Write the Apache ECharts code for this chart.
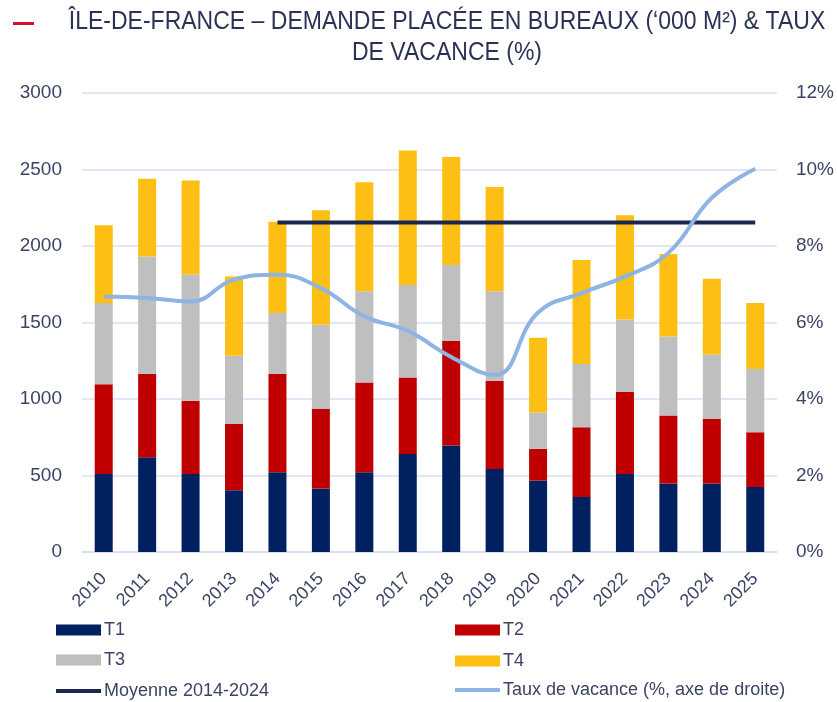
<!DOCTYPE html>
<html>
<head>
<meta charset="utf-8">
<script src="https://cdn.jsdelivr.net/npm/echarts@6/dist/echarts.min.js"></script>
<style>
  html, body { margin: 0; padding: 0; background: #fff; }
  #chart { width: 837px; height: 702px; }
</style>
</head>
<body>
<div id="chart"></div>
<script>
// données ('000 m²)
var annees = ['2010', '2011', '2012', '2013', '2014', '2015', '2016', '2017',
              '2018', '2019', '2020', '2021', '2022', '2023', '2024', '2025'];
var t1 = [510, 620, 510, 404, 521, 415, 521, 641, 696, 543, 467, 360, 510, 447, 447, 425];
var t2 = [587, 543, 478, 432, 642, 519, 587, 500, 683, 576, 207, 456, 535, 445, 423, 358];
var t3 = [530, 768, 825, 446, 399, 552, 596, 604, 497, 585, 238, 412, 475, 517, 421, 413];
var t4 = [508, 508, 615, 518, 596, 748, 713, 879, 705, 682, 488, 681, 681, 538, 495, 431];
// moyenne 2014-2024, tracée de 2014 à 2025
var moyenne = [null, null, null, null, 2153, 2153, 2153, 2153, 2153, 2153, 2153, 2153, 2153, 2153, 2153, 2153];
// taux de vacance (%)
var vacance = [6.68, 6.64, 6.55, 7.12, 7.25, 6.9, 6.16, 5.78, 5.1, 4.63, 6.26, 6.77, 7.2, 7.82, 9.26, 10.02];
var titre1 = 'ÎLE-DE-FRANCE – DEMANDE PLACÉE EN BUREAUX (‘000 M²) & TAUX';
var titre2 = 'DE VACANCE (%)';

var txt = '#3c4466';
var grille = '#d8def5';
var police = '"Liberation Sans", Arial, sans-serif';

var myChart = echarts.init(document.getElementById('chart'));

function barre(nom, data, couleur) {
    return {
        name: nom,
        type: 'bar',
        stack: 'demande',
        barWidth: 18,
        data: data,
        itemStyle: { color: couleur }
    };
}

// une légende par entrée, placée comme sur l'original
function leg(nom, x, y, hauteur) {
    return {
        data: [nom],
        left: x,
        top: y,
        icon: 'rect',
        itemWidth: 45,
        itemHeight: hauteur,
        padding: 0,
        textStyle: { color: txt, fontSize: 18, fontFamily: police, padding: [0, 0, 0, -2] }
    };
}

// titre condensé (police étroite absente)
function ligneTitre(texte, y) {
    return {
        type: 'text',
        x: 447,
        y: y,
        scaleX: 0.885,
        style: {
            text: texte,
            x: 0,
            y: 0,
            align: 'center',
            verticalAlign: 'middle',
            fill: '#2a3256',
            font: '26px "Liberation Sans", Arial, sans-serif'
        }
    };
}

myChart.setOption({
    animation: false,
    graphic: [
        {
            type: 'rect',
            shape: { x: 13, y: 22, width: 21, height: 3 },
            style: { fill: '#d0112b' }
        },
        ligneTitre(titre1, 22),
        ligneTitre(titre2, 53)
    ],
    legend: [
        leg('T1', 56, 621, 11),
        leg('T3', 56, 651, 11),
        leg('Moyenne 2014-2024', 56, 682, 4),
        leg('T2', 455, 621, 11),
        leg('T4', 455, 652, 11),
        leg('Taux de vacance (%, axe de droite)', 455, 681, 4)
    ],
    grid: {
        left: 82,
        right: 58,
        top: 93,
        bottom: 150
    },
    xAxis: {
        type: 'category',
        data: annees,
        axisLine: { lineStyle: { color: grille, width: 1.5 } },
        axisTick: { show: false },
        axisLabel: {
            rotate: 45,
            color: txt,
            fontSize: 18,
            fontFamily: police,
            margin: 24
        }
    },
    yAxis: [{
        type: 'value',
        min: 0,
        max: 3000,
        interval: 500,
        axisLine: { show: false },
        axisTick: { show: false },
        splitLine: { lineStyle: { color: grille, width: 1.5 } },
        axisLabel: {
            color: txt, fontSize: 19, fontFamily: police, margin: 20,
            formatter: function (v) { return String(v); }
        }
    }, {
        type: 'value',
        min: 0,
        max: 12,
        interval: 2,
        axisLine: { show: false },
        axisTick: { show: false },
        splitLine: { show: false },
        axisLabel: { color: txt, fontSize: 19, fontFamily: police, margin: 19, formatter: '{value}%' }
    }],
    series: [
        barre('T1', t1, '#002060'),
        barre('T2', t2, '#c00000'),
        barre('T3', t3, '#bfbfbf'),
        barre('T4', t4, '#fdbf14'),
        {
            name: 'Moyenne 2014-2024',
            type: 'line',
            data: moyenne,
            symbol: 'none',
            lineStyle: { color: '#1c2750', width: 4 },
            itemStyle: { color: '#1c2750' },
            z: 5
        },
        {
            name: 'Taux de vacance (%, axe de droite)',
            type: 'line',
            yAxisIndex: 1,
            data: vacance,
            smooth: 0.45,
            symbol: 'none',
            lineStyle: { color: '#8db4e2', width: 4 },
            itemStyle: { color: '#8db4e2' },
            z: 6
        }
    ]
});
</script>
</body>
</html>
